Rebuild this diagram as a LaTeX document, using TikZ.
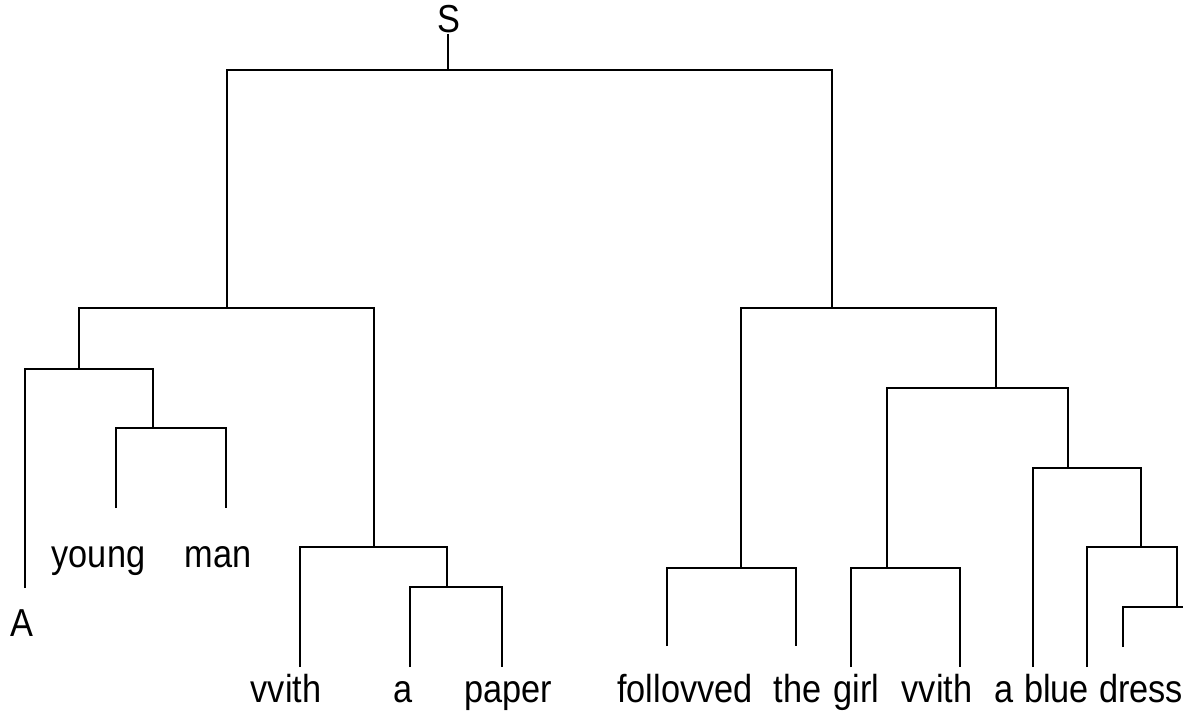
\documentclass[tikz,border=0pt]{standalone}
\usepackage{fontspec}
\setmainfont{Liberation Sans}[FakeStretch=0.88]
\begin{document}
\begin{tikzpicture}[x=0.5pt,y=-0.5pt,
  word/.style={inner sep=0pt,anchor=base,font=\fontsize{19.5}{22}\selectfont},
  branch/.style={line width=1.1pt,line join=miter,black}]
\useasboundingbox (0,0) rectangle (1202,711);
% words
\node[word] (S) at (449,33) {S};
\node[word] (wA) at (22,636) {A};
\node[word] (wyoung) at (98.5,567.5) {young};
\node[word] (wman) at (218,567.5) {man};
\node[word] (wwith1) at (286,702) {vvith};
\node[word] (wa1) at (403.5,702) {a};
\node[word] (wpaper) at (508,702) {paper};
\node[word] (wfollowed) at (685,702) {follovved};
\node[word] (wthe) at (797.5,702) {the};
\node[word] (wgirl) at (856.5,702) {girl};
\node[word] (wwith2) at (937,702) {vvith};
\node[word] (wa2) at (1004,702) {a};
\node[word] (wblue) at (1056.5,702) {blue};
\node[word] (wdress) at (1141,702) {dress};
% junction coordinates: t = top of stem, b = bottom of stem
\coordinate (r) at (448,70);
\coordinate (Lt) at (227,70);   \coordinate (Lb) at (227,308);
\coordinate (Rt) at (832,70);   \coordinate (Rb) at (832,308);
\coordinate (LLt) at (79,308);  \coordinate (LLb) at (79,369);
\coordinate (LRt) at (374,308); \coordinate (LRb) at (374,547);
\coordinate (At) at (25,369);   \coordinate (Ab) at (25,588);
\coordinate (YMt) at (153,369); \coordinate (YMb) at (153,428);
\coordinate (Yt) at (116,428);  \coordinate (Yb) at (116,508);
\coordinate (Mt) at (226,428);  \coordinate (Mb) at (226,508);
\coordinate (W1t) at (300,547); \coordinate (W1b) at (300,667);
\coordinate (APt) at (447,547); \coordinate (APb) at (447,587);
\coordinate (a1t) at (410,587); \coordinate (a1b) at (410,667);
\coordinate (Pt) at (502,587);  \coordinate (Pb) at (502,667);
\coordinate (RLt) at (741,308); \coordinate (RLb) at (741,568);
\coordinate (RRt) at (996,308); \coordinate (RRb) at (996,388);
\coordinate (Ft) at (667,568);  \coordinate (Fb) at (667,646);
\coordinate (Tt) at (796,568);  \coordinate (Tb) at (796,646);
\coordinate (RRLt) at (887,388); \coordinate (RRLb) at (887,568);
\coordinate (RRRt) at (1068,388); \coordinate (RRRb) at (1068,468);
\coordinate (Gt) at (851,568);  \coordinate (Gb) at (851,667);
\coordinate (W2t) at (960,568); \coordinate (W2b) at (960,667);
\coordinate (a2t) at (1033,468); \coordinate (a2b) at (1033,667);
\coordinate (Xt) at (1141,468); \coordinate (Xb) at (1141,547);
\coordinate (Bt) at (1087,547); \coordinate (Bb) at (1087,667);
\coordinate (Ynt) at (1177,547); \coordinate (Ynb) at (1177,607);
\coordinate (Dt) at (1123,607); \coordinate (Db) at (1123,647);
\coordinate (Et) at (1183,607);
% branches
\draw[branch] (r |- S.south) -- (r);
\draw[branch] (Lb) -- (Lt) -- (Rt) -- (Rb);
\draw[branch] (LLb) -- (LLt) -- (LRt) -- (LRb);
\draw[branch] (Ab) -- (At) -- (YMt) -- (YMb);
\draw[branch] (Yb) -- (Yt) -- (Mt) -- (Mb);
\draw[branch] (W1b) -- (W1t) -- (APt) -- (APb);
\draw[branch] (a1b) -- (a1t) -- (Pt) -- (Pb);
\draw[branch] (RLb) -- (RLt) -- (RRt) -- (RRb);
\draw[branch] (Fb) -- (Ft) -- (Tt) -- (Tb);
\draw[branch] (RRLb) -- (RRLt) -- (RRRt) -- (RRRb);
\draw[branch] (Gb) -- (Gt) -- (W2t) -- (W2b);
\draw[branch] (a2b) -- (a2t) -- (Xt) -- (Xb);
\draw[branch] (Bb) -- (Bt) -- (Ynt) -- (Ynb);
\draw[branch] (Db) -- (Dt) -- (Et);
\end{tikzpicture}
\end{document}
